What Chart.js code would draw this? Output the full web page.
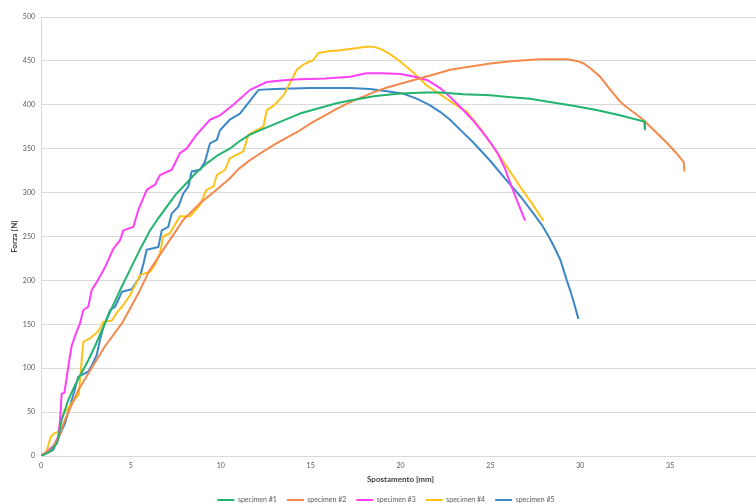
<!DOCTYPE html>
<html>
<head>
<meta charset="utf-8">
<title>Forza - Spostamento</title>
<script src="https://cdn.jsdelivr.net/npm/chart.js@4"></script>
<style>
  html, body { margin: 0; padding: 0; background: #fff; overflow: hidden; }
  #wrap { width: 775px; height: 504px; }
</style>
</head>
<body>
<div id="wrap"><canvas id="grafico" width="775" height="504"></canvas></div>
<script>
// --- dati (spostamento mm / forza N) ---
const seriesNames = ["specimen #1", "specimen #2", "specimen #3", "specimen #4", "specimen #5"];
const seriesColors = ["#22b46e", "#f4894b", "#ff40f8", "#ffc21a", "#3c87c8"];

const spec1X = [0, 0.5, 0.9, 1.15, 1.52, 1.9, 2.63, 3.0, 3.75, 4.4, 4.95, 5.5, 6.07, 6.5, 7.0, 7.5, 8.1, 8.6, 9.2, 9.8, 10.5, 11.0, 11.63, 12.3, 13.0, 13.7, 14.4, 15.1, 15.8, 16.5, 17.2, 18.6, 20.0, 21.4, 22.2, 23.5, 25.0, 26.0, 27.2, 28.4, 29.6, 30.9, 32.2, 33.55, 33.6];
const spec1Y = [0, 5, 15, 41, 64, 81, 109, 125, 160, 189, 212, 235, 257, 270, 284, 298, 311, 322, 333, 342, 350, 358, 366, 372, 378, 384, 390, 394, 398, 402, 405, 410, 413, 414, 414, 412, 411, 409, 407, 403, 399, 394, 388, 381, 372];

const spec2X = [0, 0.6, 1.0, 1.33, 2.07, 2.63, 3.56, 4.5, 5.41, 6.0, 6.8, 7.4, 7.92, 8.85, 9.7, 10.5, 11.0, 11.63, 12.3, 13.0, 13.7, 14.41, 15.1, 15.8, 16.5, 17.2, 17.9, 18.6, 19.3, 20.0, 20.7, 21.4, 22.1, 22.76, 24.0, 25.0, 26.3, 27.77, 29.25, 29.8, 30.2, 30.6, 31.1, 31.6, 32.2, 32.6, 33.0, 33.5, 34.1, 34.8, 35.3, 35.75, 35.8];
const spec2Y = [0, 8, 22, 41, 75, 94, 125, 151, 185, 210, 235, 253, 269, 288, 302, 316, 327, 337, 346, 355, 363, 371, 380, 388, 396, 403, 409, 415, 420, 424, 428, 432, 436, 440, 444, 447, 450, 452, 452, 450, 447, 441, 432, 419, 404, 397, 391, 383, 371, 357, 346, 335, 324];

const spec3X = [0, 0.4, 0.7, 0.96, 1.06, 1.15, 1.3, 1.52, 1.7, 1.95, 2.17, 2.35, 2.63, 2.82, 3.1, 3.56, 4.02, 4.4, 4.58, 5.14, 5.41, 5.88, 6.34, 6.62, 7.27, 7.73, 8.1, 8.66, 9.4, 9.96, 10.7, 11.63, 12.56, 13.5, 14.4, 15.8, 17.2, 18.1, 19.0, 20.0, 20.8, 21.5, 22.2, 22.76, 23.3, 24.0, 24.6, 25.0, 25.4, 25.8, 26.1, 26.5, 26.93];
const spec3Y = [0, 6, 12, 22, 41, 71, 72, 102, 125, 140, 151, 166, 170, 189, 198, 215, 236, 246, 257, 261, 280, 303, 309, 320, 326, 345, 350, 366, 383, 388, 400, 417, 426, 428, 429, 430, 432, 436, 436, 435, 432, 428, 419, 409, 398, 383, 368, 357, 345, 328, 311, 290, 268];

const spec4X = [0, 0.3, 0.55, 0.75, 1.0, 1.15, 1.7, 2.1, 2.35, 2.73, 3.19, 3.47, 3.93, 4.21, 4.58, 4.95, 5.33, 5.5, 6.07, 6.34, 6.62, 6.8, 7.18, 7.73, 8.29, 8.85, 9.2, 9.6, 9.78, 10.24, 10.5, 11.26, 11.54, 12.37, 12.56, 13.0, 13.5, 14.23, 14.6, 15.15, 15.43, 16.0, 16.64, 17.4, 18.1, 18.5, 18.86, 19.4, 20.0, 20.7, 21.46, 22.2, 22.76, 23.7, 24.4, 25.17, 25.9, 26.65, 27.3, 27.95];
const spec4Y = [0, 5, 22, 26, 28, 45, 60, 70, 130, 134, 142, 153, 154, 163, 172, 183, 198, 206, 210, 218, 231, 250, 254, 273, 273, 286, 303, 307, 320, 326, 339, 347, 366, 375, 394, 400, 411, 440, 446, 451, 459, 461, 462, 464, 466, 466, 464, 458, 449, 437, 422, 412, 404, 392, 374, 352, 330, 307, 288, 268];

const spec5X = [0, 0.68, 1.0, 1.33, 1.8, 2.07, 2.63, 2.9, 3.1, 3.28, 3.47, 3.84, 4.12, 4.5, 5.05, 5.5, 5.7, 5.88, 6.53, 6.72, 7.08, 7.27, 7.64, 7.92, 8.2, 8.38, 8.85, 9.12, 9.4, 9.78, 9.96, 10.5, 11.07, 11.45, 12.1, 13.0, 15.0, 17.2, 18.3, 19.05, 20.1, 20.9, 21.6, 22.2, 22.76, 23.4, 24.05, 25.0, 25.9, 26.7, 27.4, 27.9, 28.3, 28.6, 28.9, 29.1, 29.25, 29.45, 29.6, 29.75, 29.9];
const spec5Y = [0, 7, 22, 37, 70, 90, 96, 106, 115, 132, 147, 166, 170, 187, 190, 204, 219, 235, 238, 257, 261, 276, 284, 299, 307, 324, 326, 335, 356, 360, 371, 383, 390, 400, 417, 418, 419, 419, 418, 416, 413, 407, 400, 392, 383, 370, 357, 336, 314, 295, 276, 262, 248, 236, 223, 210, 200, 188, 178, 167, 156];

const xTicksMax = 40;
const yTicksMax = 500;

const allX = [spec1X, spec2X, spec3X, spec4X, spec5X];
const allY = [spec1Y, spec2Y, spec3Y, spec4Y, spec5Y];

// --- costruzione dataset ---
const datasets = seriesNames.map((nome, i) => ({
    label: nome,
    data: allX[i].map((x, k) => ({ x: x, y: allY[i][k] })),
    borderColor: seriesColors[i],
    backgroundColor: seriesColors[i],
    borderWidth: 2,
    borderJoinStyle: "round",
    pointRadius: 0,
    tension: 0
}));

const grigio = "#595959";
const griglia = "#d9d9d9";
const fontBase = "Lato, 'Liberation Sans', sans-serif";

new Chart(document.getElementById("grafico"), {
    type: "line",
    data: { datasets: datasets },
    options: {
        responsive: false,
        animation: false,
        layout: { padding: { left: 12, right: 15, top: 17, bottom: 0 } },
        plugins: {
            legend: {
                position: "bottom",
                maxHeight: 17.5,
                labels: {
                    usePointStyle: true,
                    pointStyle: "line",
                    pointStyleWidth: 17,
                    padding: 10,
                    color: grigio,
                    font: { family: fontBase, size: 7 }
                }
            },
            tooltip: { enabled: false }
        },
        scales: {
            x: {
                type: "linear",
                min: 0,
                max: xTicksMax,
                afterFit: (s) => { s.height = 30.5; },
                ticks: { stepSize: 5, color: grigio, padding: 6, maxRotation: 0, font: { family: fontBase, size: 7 } },
                grid: { display: false, drawTicks: false },
                border: { color: griglia, width: 1 },
                title: {
                    display: true,
                    text: "Spostamento [mm]",
                    color: "#404040",
                    padding: { top: 0, bottom: 2.7 },
                    font: { family: fontBase, size: 8, weight: "bold" }
                }
            },
            y: {
                min: 0,
                max: yTicksMax,
                afterFit: (s) => { s.width = 29; },
                ticks: { stepSize: 50, color: grigio, padding: 6, font: { family: fontBase, size: 7 } },
                grid: { color: griglia, lineWidth: 1, drawTicks: false },
                border: { color: griglia, width: 1 },
                title: {
                    display: true,
                    text: "Forza [N]",
                    color: "#404040",
                    padding: { top: -2, bottom: 0 },
                    font: { family: fontBase, size: 8, weight: "bold" }
                }
            }
        }
    }
});
</script>
</body>
</html>
